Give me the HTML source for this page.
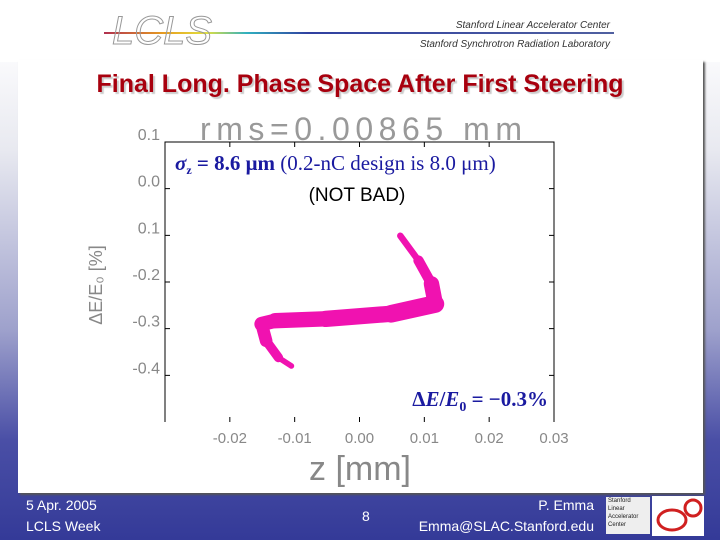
<!DOCTYPE html>
<html><head><meta charset="utf-8"><style>
body{margin:0;width:720px;height:540px;overflow:hidden;font-family:"Liberation Sans",sans-serif;}
#bg{position:absolute;left:0;top:0;width:720px;height:540px;background:linear-gradient(to bottom,#fff 0px,#fafafc 60px,#e8e9f0 150px,#9ea1cc 330px,#4a4fa6 440px,#343a98 540px);}
#top{position:absolute;left:0;top:0;width:720px;height:62px;background:#fff;}
#panel{position:absolute;left:18px;top:60px;width:685px;height:433px;background:#fff;box-shadow:2px 2px 2px #555;}
.ft{position:absolute;color:#fff;font-size:14px;}
</style></head><body>
<div id="bg"></div>
<div id="top"></div>
<svg style="position:absolute;left:0;top:0" width="720" height="62">
<defs><linearGradient id="lg" x1="0" x2="1"><stop offset="0" stop-color="#b03050"/><stop offset="0.12" stop-color="#e8a020"/><stop offset="0.2" stop-color="#e0e040"/><stop offset="0.28" stop-color="#30b0c0"/><stop offset="0.4" stop-color="#3040a0"/><stop offset="1" stop-color="#5060a0"/></linearGradient></defs>
<rect x="104" y="32" width="510" height="2" fill="url(#lg)"/>
<text x="112" y="44" font-size="40" font-style="italic" fill="none" stroke="#999" stroke-width="1" font-family="Liberation Sans">LCLS</text>
<text x="610" y="28" font-size="10" font-style="italic" fill="#333" text-anchor="end">Stanford Linear Accelerator Center</text>
<text x="610" y="47" font-size="10" font-style="italic" fill="#333" text-anchor="end">Stanford Synchrotron Radiation Laboratory</text>
</svg>
<div id="panel"></div>
<div style="position:absolute;left:0;top:70px;width:720px;text-align:center;font-weight:bold;font-size:25px;color:#a8000e;text-shadow:2px 2px 1px #ccc;">Final Long. Phase Space After First Steering</div>
<svg id="chart" style="position:absolute;left:0;top:0" width="720" height="540"></svg>
<div class="ft" style="left:26px;top:497px">5 Apr. 2005</div>
<div class="ft" style="left:26px;top:518px">LCLS Week</div>
<div class="ft" style="left:362px;top:508px">8</div>
<div class="ft" style="right:126px;top:497px">P. Emma</div>
<div class="ft" style="right:126px;top:518px">Emma@SLAC.Stanford.edu</div>
<div style="position:absolute;left:606px;top:497px;width:44px;height:37px;background:#eee;font-size:6px;line-height:8px;color:#222;padding-left:2px;box-sizing:border-box">Stanford<br>Linear<br>Accelerator<br>Center</div>
<div style="position:absolute;left:652px;top:496px;width:52px;height:40px;background:#fff"><svg width="52" height="40"><ellipse cx="20" cy="24" rx="14" ry="10" fill="none" stroke="#d02020" stroke-width="3"/><circle cx="41" cy="12" r="8" fill="none" stroke="#d02020" stroke-width="3"/></svg></div>
<script>
const zCenter=[0.0063,0.0091,0.0111,0.0117,0.0049,-0.0052,-0.0130,-0.0151,-0.0144,-0.0125,-0.0105];
const dECenter=[-0.101,-0.154,-0.204,-0.247,-0.268,-0.279,-0.283,-0.290,-0.326,-0.362,-0.380];
const dESpread=[0.010,0.018,0.026,0.040,0.036,0.034,0.032,0.030,0.024,0.016,0.008];
const xTicks=[-0.02,-0.01,0.00,0.01,0.02,0.03];
const xTickLabels=["-0.02","-0.01","0.00","0.01","0.02","0.03"];
const yTicks=[0.1,0.0,-0.1,-0.2,-0.3,-0.4];
const yTickLabels=["0.1","0.0","0.1","-0.2","-0.3","-0.4"];
const NS="http://www.w3.org/2000/svg";
const svg=document.getElementById('chart');
const L=165,R=554,T=142,B=422;
const sx=v=>L+(v+0.03)/0.06*(R-L);
const sy=v=>T+(0.1-v)/0.6*(B-T);
function mk(tag,attrs,parent){const e=document.createElementNS(NS,tag);for(const k in attrs)e.setAttribute(k,attrs[k]);(parent||svg).appendChild(e);return e;}
let t=mk('text',{x:200,y:140,'font-size':32,fill:'#999','font-family':'Liberation Sans','textLength':322,'font-weight':'lighter'});t.textContent='rms=0.00865 mm';


let cover=mk('rect',{x:L,y:T,width:R-L,height:B-T,fill:'#fff'});


let ax=mk('path',{d:`M${L},${B}V${T}H${R}V${B}`,fill:'none',stroke:'#000','stroke-width':1});


xTicks.forEach((v,i)=>{
 const x=sx(v);
 let tk=mk('path',{d:`M${x},${T}v5M${x},${B}v-5`,stroke:'#000'});
 
 
 let lb=mk('text',{x:x,y:443,'font-size':15,fill:'#888','text-anchor':'middle','font-family':'Liberation Sans'});lb.textContent=xTickLabels[i];
 
 
});
yTicks.forEach((v,i)=>{
 const y=sy(v);
 let tk=mk('path',{d:`M${L},${y}h5M${R},${y}h-5`,stroke:'#000'});
 
 
 let lb=mk('text',{x:160,y:y-2,'font-size':16,fill:'#888','text-anchor':'end','font-family':'Liberation Sans'});lb.textContent=yTickLabels[i];
 
 
});
for(let i=0;i<zCenter.length-1;i++){
 const w=(dESpread[i]+dESpread[i+1])/2*(B-T)/0.6;
 let s=mk('line',{x1:sx(zCenter[i]),y1:sy(dECenter[i]),x2:sx(zCenter[i+1]),y2:sy(dECenter[i+1]),stroke:'#f012b0','stroke-width':w,'stroke-linecap':'round'});
 
 
}
let yl=mk('text',{x:0,y:0,transform:'translate(102,285) rotate(-90)','font-size':18,fill:'#888','text-anchor':'middle','font-family':'Liberation Sans'});yl.textContent='ΔE/E₀ [%]';


let xl=mk('text',{x:360,y:480,'font-size':34,fill:'#888','text-anchor':'middle','font-family':'Liberation Sans','font-weight':'lighter'});xl.textContent='z [mm]';


let a1=mk('text',{x:175,y:170,'font-size':21,fill:'#1a1aa0','font-family':'Liberation Serif'});
a1.innerHTML='<tspan font-weight="bold" font-style="italic">σ</tspan><tspan font-weight="bold" font-size="12" dy="4">z</tspan><tspan font-weight="bold" dy="-4"> = 8.6 μm</tspan> (0.2-nC design is 8.0 μm)';


let a2=mk('text',{x:357,y:201,'font-size':19,fill:'#000','text-anchor':'middle','font-family':'Liberation Sans'});a2.textContent='(NOT BAD)';


let a3=mk('text',{x:548,y:406,'font-size':21,fill:'#1a1aa0','text-anchor':'end','font-family':'Liberation Serif','font-weight':'bold'});
a3.innerHTML='Δ<tspan font-style="italic">E</tspan>/<tspan font-style="italic">E</tspan><tspan font-size="14" dy="5">0</tspan><tspan dy="-5"> = −0.3%</tspan>';


</script>
</body></html>
